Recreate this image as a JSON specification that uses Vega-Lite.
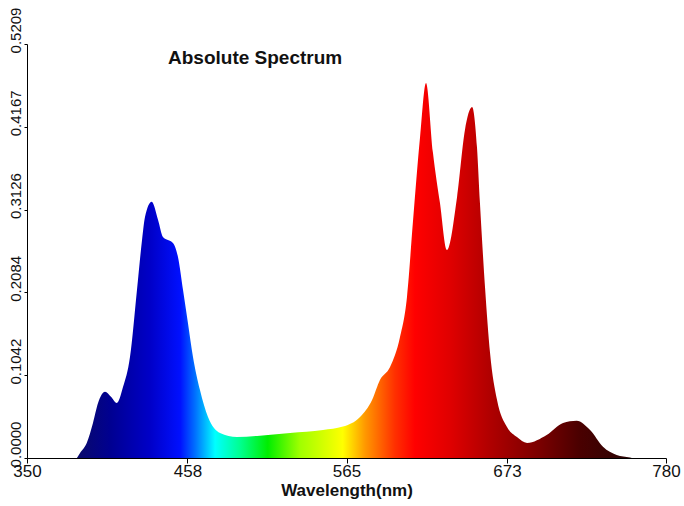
{
  "$schema": "https://vega.github.io/schema/vega-lite/v6.json",
  "width": 639,
  "height": 414,
  "autosize": {"type": "none"},
  "padding": {"left": 27, "top": 44, "right": 18, "bottom": 48},
  "background": "white",
  "title": {
    "text": "Absolute Spectrum",
    "anchor": "start",
    "frame": "group",
    "dx": 141,
    "offset": -61,
    "font": "Liberation Sans",
    "fontSize": 19,
    "fontWeight": "bold",
    "color": "#111111"
  },
  "config": {"view": {"stroke": null}},
  "data": {
    "values": [
      {"wl": 383.6, "v": 0.0},
      {"wl": 385.7, "v": 0.0063},
      {"wl": 390.2, "v": 0.0189},
      {"wl": 394.4, "v": 0.044},
      {"wl": 397.8, "v": 0.0692},
      {"wl": 402.5, "v": 0.0834},
      {"wl": 406.5, "v": 0.077},
      {"wl": 410.4, "v": 0.0692},
      {"wl": 414.6, "v": 0.0893},
      {"wl": 419.3, "v": 0.1271},
      {"wl": 424.0, "v": 0.2114},
      {"wl": 427.4, "v": 0.2743},
      {"wl": 429.4, "v": 0.3032},
      {"wl": 433.9, "v": 0.3225},
      {"wl": 438.2, "v": 0.2995},
      {"wl": 441.5, "v": 0.2781},
      {"wl": 448.2, "v": 0.2705},
      {"wl": 451.6, "v": 0.2529},
      {"wl": 455.0, "v": 0.2114},
      {"wl": 458.3, "v": 0.1699},
      {"wl": 461.7, "v": 0.1271},
      {"wl": 466.4, "v": 0.0856},
      {"wl": 471.8, "v": 0.0516},
      {"wl": 479.9, "v": 0.0315},
      {"wl": 491.3, "v": 0.0264},
      {"wl": 504.8, "v": 0.0277},
      {"wl": 527.0, "v": 0.0315},
      {"wl": 549.2, "v": 0.0352},
      {"wl": 562.6, "v": 0.0395},
      {"wl": 574.1, "v": 0.0516},
      {"wl": 582.2, "v": 0.073},
      {"wl": 587.5, "v": 0.0981},
      {"wl": 594.3, "v": 0.1145},
      {"wl": 601.0, "v": 0.1522},
      {"wl": 605.7, "v": 0.2026},
      {"wl": 609.8, "v": 0.2995},
      {"wl": 614.5, "v": 0.4039},
      {"wl": 618.5, "v": 0.4718},
      {"wl": 623.2, "v": 0.3838},
      {"wl": 627.9, "v": 0.3208},
      {"wl": 632.6, "v": 0.2617},
      {"wl": 639.4, "v": 0.3284},
      {"wl": 644.7, "v": 0.4127},
      {"wl": 649.5, "v": 0.4416},
      {"wl": 652.8, "v": 0.3913},
      {"wl": 654.8, "v": 0.3208},
      {"wl": 658.2, "v": 0.2152},
      {"wl": 661.6, "v": 0.1321},
      {"wl": 666.3, "v": 0.073},
      {"wl": 673.0, "v": 0.039},
      {"wl": 679.7, "v": 0.0264},
      {"wl": 686.5, "v": 0.019},
      {"wl": 699.7, "v": 0.0289},
      {"wl": 710.7, "v": 0.044},
      {"wl": 719.9, "v": 0.0469},
      {"wl": 728.9, "v": 0.0352},
      {"wl": 737.6, "v": 0.0142},
      {"wl": 746.8, "v": 0.0038},
      {"wl": 755.8, "v": 0.0006},
      {"wl": 757.0, "v": 0.0}
    ]
  },
  "mark": {
    "type": "area",
    "interpolate": "monotone",
    "color": {
      "gradient": "linear",
      "x1": 0, "y1": 0, "x2": 1, "y2": 0,
      "stops": [
        {"offset": 0.0, "color": "#0a0a6a"},
        {"offset": 0.059, "color": "#000090"},
        {"offset": 0.132, "color": "#0000c8"},
        {"offset": 0.186, "color": "#0010ff"},
        {"offset": 0.213, "color": "#0070ff"},
        {"offset": 0.249, "color": "#00ffff"},
        {"offset": 0.294, "color": "#00ff90"},
        {"offset": 0.344, "color": "#00ee00"},
        {"offset": 0.402, "color": "#a0ff00"},
        {"offset": 0.479, "color": "#ffff00"},
        {"offset": 0.519, "color": "#ff9900"},
        {"offset": 0.573, "color": "#ff3000"},
        {"offset": 0.609, "color": "#ff0000"},
        {"offset": 0.672, "color": "#e00000"},
        {"offset": 0.744, "color": "#b00000"},
        {"offset": 0.834, "color": "#7a0000"},
        {"offset": 0.906, "color": "#4a0000"},
        {"offset": 1.0, "color": "#2a0505"}
      ]
    }
  },
  "encoding": {
    "x": {
      "field": "wl",
      "type": "quantitative",
      "scale": {"domain": [350, 780], "nice": false, "zero": false},
      "axis": {
        "values": [350, 458, 565, 673, 780],
        "title": "Wavelength(nm)",
        "grid": false,
        "domainColor": "#000000",
        "tickColor": "#000000",
        "tickSize": 5,
        "labelFont": "Liberation Sans",
        "labelFontSize": 17,
        "labelColor": "#111111",
        "labelPadding": 0,
        "labelFlush": false,
        "titleFont": "Liberation Sans",
        "titleFontSize": 17,
        "titleFontWeight": "bold",
        "titleColor": "#111111",
        "titlePadding": 3
      }
    },
    "y": {
      "field": "v",
      "type": "quantitative",
      "scale": {"domain": [0, 0.5209], "nice": false},
      "axis": {
        "values": [0, 0.1042, 0.2084, 0.3126, 0.4167, 0.5209],
        "format": ".4f",
        "title": null,
        "grid": false,
        "domainColor": "#000000",
        "tickColor": "#000000",
        "tickSize": 3,
        "labelAngle": 270,
        "labelAlign": "center",
        "labelBaseline": "bottom",
        "labelOffset": -14,
        "labelPadding": 1,
        "labelFlush": false,
        "labelFont": "Liberation Sans",
        "labelFontSize": 15,
        "labelColor": "#111111"
      }
    }
  }
}
